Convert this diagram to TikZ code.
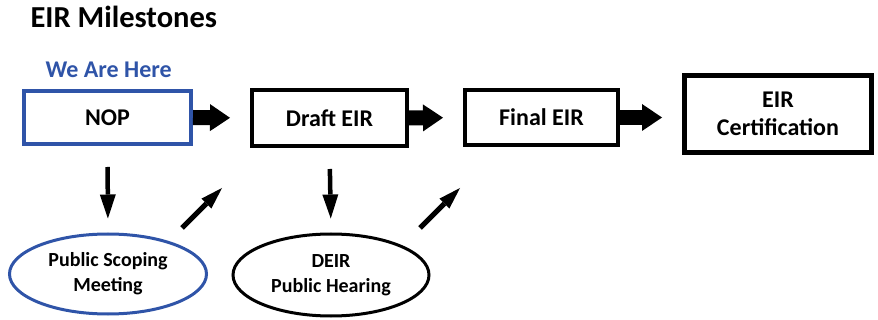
\documentclass[tikz,border=0pt]{standalone}
\usepackage{fontspec}
\setmainfont{Carlito}
\usetikzlibrary{arrows.meta,shapes.geometric}
\definecolor{hereblue}{RGB}{47,84,168}

\begin{document}
\begin{tikzpicture}[x=1pt,y=-1pt,
  milestone/.style={draw,line width=4pt,inner sep=0pt,align=center,font=\fontsize{24}{28}\selectfont\bfseries},
  meeting/.style={draw,ellipse,line width=3pt,inner sep=0pt,align=center,font=\fontsize{20}{25}\selectfont\bfseries},
  bigarrow/.style={line width=15pt,-{Triangle[length=20pt,width=27pt,line width=0pt]},shorten >=20pt},
  downarrow/.style={line width=4.5pt,-{Triangle[length=24pt,width=16pt,line width=0pt]},shorten <=21pt,shorten >=14pt},
  uparrow/.style={line width=5pt,-{Triangle[length=22pt,width=14pt,line width=0pt]}}]
  \useasboundingbox (0,0) rectangle (878,320);
  \node[anchor=base west,font=\fontsize{30.5}{35}\selectfont\bfseries] at (27,28) (title) {EIR Milestones};
  \node[anchor=base west,text=hereblue,font=\fontsize{24}{28}\selectfont\bfseries] at (42,78) (here) {We Are Here};
  % milestones
  \node[milestone,draw=hereblue,minimum width=167pt,minimum height=53pt] at (107.5,117.5) (nop) {NOP};
  \node[milestone,minimum width=155pt,minimum height=56pt] at (329.5,118) (draft) {Draft EIR};
  \node[milestone,minimum width=153pt,minimum height=55pt] at (541.5,117.5) (final) {Final EIR};
  \node[milestone,line width=5pt,minimum width=187pt,minimum height=77pt] at (778,114) (cert) {EIR\\Certification};
  % meetings
  \node[meeting,draw=hereblue,minimum width=197pt,minimum height=80pt] at (108,274) (scoping) {Public Scoping\\Meeting};
  \node[meeting,minimum width=196pt,minimum height=82pt] at (331,275) (hearing) {DEIR\\Public Hearing};
  \draw[bigarrow] (nop.east) -- (draft.west);
  \draw[bigarrow] (draft.west -| draft.east) -- (final.west);
  \draw[bigarrow] (final.east) -- (cert.west |- final.east);
  \draw[downarrow] (nop.south) -- (scoping.north);
  \draw[downarrow] (draft.south) -- (hearing.north);
  \coordinate (up1a) at (182,228);
  \coordinate (up1b) at (222,188);
  \coordinate (up2a) at (420,228);
  \coordinate (up2b) at (460,188);
  \draw[uparrow] (up1a) -- (up1b);
  \draw[uparrow] (up2a) -- (up2b);
\end{tikzpicture}
\end{document}
